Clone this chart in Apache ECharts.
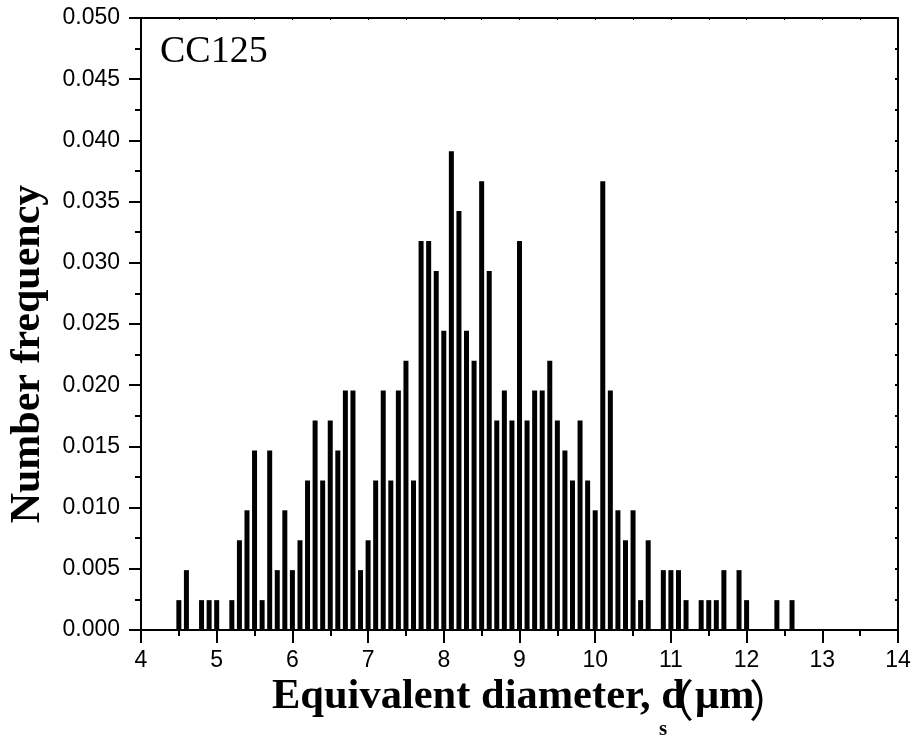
<!DOCTYPE html>
<html>
<head>
<meta charset="utf-8">
<script src="https://cdn.jsdelivr.net/npm/echarts@6/dist/echarts.min.js"></script>
<style>html,body{margin:0;padding:0;background:#fff}#c{width:914px;height:736px}</style>
</head>
<body>
<div id="c"></div>
<script>
// Bin centres (equivalent diameter, µm)
const diameters = [4.5,4.6,4.7,4.8,4.9,5.0,5.1,5.2,5.3,5.4,5.5,5.6,5.7,5.8,5.9,6.0,6.1,6.2,6.3,6.4,6.5,6.6,6.7,6.8,6.9,7.0,7.1,7.2,7.3,7.4,7.5,7.6,7.7,7.8,7.9,8.0,8.1,8.2,8.3,8.4,8.5,8.6,8.7,8.8,8.9,9.0,9.1,9.2,9.3,9.4,9.5,9.6,9.7,9.8,9.9,10.0,10.1,10.2,10.3,10.4,10.5,10.6,10.7,10.8,10.9,11.0,11.1,11.2,11.3,11.4,11.5,11.6,11.7,11.8,11.9,12.0,12.1,12.2,12.3,12.4,12.5,12.6];
// Number frequency per bin
const frequencies = [0.00244,0.00489,0,0.00244,0.00244,0.00244,0,0.00244,0.00733,0.00978,0.01467,0.00244,0.01467,0.00489,0.00978,0.00489,0.00733,0.01222,0.01711,0.01222,0.01711,0.01467,0.01956,0.01956,0.00489,0.00733,0.01222,0.01956,0.01222,0.01956,0.02200,0.01222,0.03178,0.03178,0.02934,0.02445,0.03912,0.03423,0.02445,0.02200,0.03667,0.02934,0.01711,0.01956,0.01711,0.03178,0.01711,0.01956,0.01956,0.02200,0.01711,0.01467,0.01222,0.01711,0.01222,0.00978,0.03667,0.01956,0.00978,0.00733,0.00978,0.00244,0.00733,0,0.00489,0.00489,0.00489,0.00244,0,0.00244,0.00244,0.00244,0.00489,0,0.00489,0.00244,0,0,0,0.00244,0,0.00244];
const xTicks = [4,5,6,7,8,9,10,11,12,13,14];
const yTicks = ['0.000','0.005','0.010','0.015','0.020','0.025','0.030','0.035','0.040','0.045','0.050'];
const sampleLabel = 'CC125';
const yTitle = 'Number frequency';
const xTitleMain = 'Equivalent diameter, d';
const xTitleSub = 's';
const xTitleUnit = 'μm';

const chart = echarts.init(document.getElementById('c'), null, {renderer: 'canvas'});
const sans = "'Liberation Sans', Arial, sans-serif";
const serif = "'Liberation Serif', 'Times New Roman', serif";
const cjk = "'Noto Sans CJK SC', sans-serif";
const lineStyle = {color: '#000', width: 2};

chart.setOption({
  animation: false,
  backgroundColor: '#fff',
  grid: {left: 141, right: 16, top: 18, bottom: 106, containLabel: false},
  xAxis: [{
    type: 'value', min: xTicks[0], max: xTicks[xTicks.length - 1], interval: 1, position: 'bottom',
    axisLine: {show: true, lineStyle: lineStyle},
    axisTick: {show: true, length: 13, lineStyle: lineStyle},
    minorTick: {show: true, splitNumber: 2, length: 6, lineStyle: lineStyle},
    splitLine: {show: false},
    axisLabel: {color: '#000', fontFamily: sans, fontSize: 23, margin: 19}
  }, {
    type: 'value', min: xTicks[0], max: xTicks[xTicks.length - 1], interval: 0.5, position: 'top',
    axisLine: {show: true, onZero: false, lineStyle: lineStyle},
    axisTick: {show: true, inside: true, length: 2, lineStyle: {color: '#000', width: 1}},
    axisLabel: {show: false}, splitLine: {show: false}
  }],
  yAxis: [{
    type: 'value', min: 0, max: 0.05, interval: 0.005, position: 'left',
    axisLine: {show: true, lineStyle: lineStyle},
    axisTick: {show: true, length: 12, lineStyle: lineStyle},
    minorTick: {show: true, splitNumber: 2, length: 6, lineStyle: lineStyle},
    splitLine: {show: false},
    axisLabel: {color: '#000', fontFamily: sans, fontSize: 23, margin: 21,
      formatter: (v) => yTicks[Math.round(v / 0.005)]}
  }, {
    type: 'value', min: 0, max: 0.05, interval: 0.0025, position: 'right',
    axisLine: {show: true, onZero: false, lineStyle: lineStyle},
    axisTick: {show: true, inside: true, length: 3, lineStyle: {color: '#000', width: 2}},
    axisLabel: {show: false}, splitLine: {show: false}
  }],
  series: [{
    type: 'bar',
    xAxisIndex: 0, yAxisIndex: 0,
    barWidth: 5,
    itemStyle: {color: '#000'},
    data: diameters.map((d, i) => [d, frequencies[i]])
  }],
  graphic: [
    {type: 'text', x: 160, y: 52, style: {text: sampleLabel, font: "38px " + serif, fill: '#000', align: 'left', verticalAlign: 'middle'}},
    {type: 'text', x: 28, y: 354, rotation: Math.PI / 2,
      style: {text: yTitle, font: "bold 42px " + serif, fill: '#000', align: 'center', verticalAlign: 'middle'}},
    {type: 'text', x: 272, y: 697,
      style: {text: xTitleMain, font: "bold 42.5px " + serif, fill: '#000', align: 'left', verticalAlign: 'middle'}},
    {type: 'text', x: 659, y: 730,
      style: {text: xTitleSub, font: "bold 21px " + serif, fill: '#000', align: 'left', verticalAlign: 'middle'}},
    {type: 'text', x: 672, y: 700,
      style: {text: '（', font: "44px " + cjk, fill: '#000', align: 'center', verticalAlign: 'middle'}},
    {type: 'text', x: 695, y: 697,
      style: {text: xTitleUnit, font: "bold 42.5px " + serif, fill: '#000', align: 'left', verticalAlign: 'middle'}},
    {type: 'text', x: 771, y: 700,
      style: {text: '）', font: "44px " + cjk, fill: '#000', align: 'center', verticalAlign: 'middle'}}
  ]
});
</script>
</body>
</html>
